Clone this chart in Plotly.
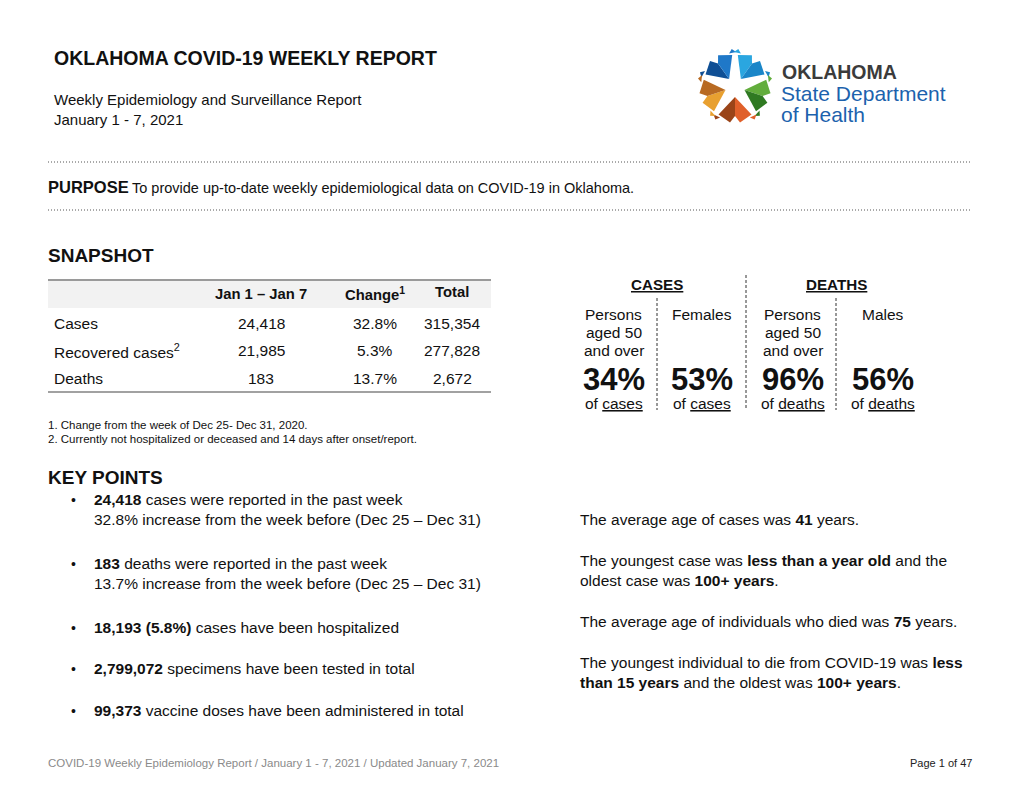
import math
import plotly.graph_objects as go

# ---------------- data ----------------
title = "OKLAHOMA COVID-19 WEEKLY REPORT"
subtitle = "Weekly Epidemiology and Surveillance Report"
date_range = "January 1 - 7, 2021"
purpose_text = "To provide up-to-date weekly epidemiological data on COVID-19 in Oklahoma."

table_headers = ["Jan 1 \u2013 Jan 7", "Change<sup>1</sup>", "Total"]
row_labels = ["Cases", "Recovered cases<sup>2</sup>", "Deaths"]
week_values = ["24,418", "21,985", "183"]
change_values = ["32.8%", "5.3%", "13.7%"]
total_values = ["315,354", "277,828", "2,672"]
footnotes = ["1. Change from the week of Dec 25- Dec 31, 2020.",
             "2. Currently not hospitalized or deceased and 14 days after onset/report."]

snap_groups = ["CASES", "DEATHS"]
snap_labels = [["Persons", "aged 50", "and over"], ["Females"],
               ["Persons", "aged 50", "and over"], ["Males"]]
snap_pcts = ["34%", "53%", "96%", "56%"]
snap_of = ["cases", "cases", "deaths", "deaths"]

key_points = [
    ["<b>24,418</b> cases were reported in the past week",
     "32.8% increase from the week before (Dec 25 \u2013 Dec 31)"],
    ["<b>183</b> deaths were reported in the past week",
     "13.7% increase from the week before (Dec 25 \u2013 Dec 31)"],
    ["<b>18,193 (5.8%)</b> cases have been hospitalized"],
    ["<b>2,799,072</b> specimens have been tested in total"],
    ["<b>99,373</b> vaccine doses have been administered in total"],
]
key_y = [499, 563, 627, 668, 710]

age_facts = [
    ["The average age of cases was <b>41</b> years."],
    ["The youngest case was <b>less than a year old</b> and the",
     "oldest case was <b>100+ years</b>."],
    ["The average age of individuals who died was <b>75</b> years."],
    ["The youngest individual to die from COVID-19 was <b>less</b>",
     "<b>than 15 years</b> and the oldest was <b>100+ years</b>."],
]
age_y = [519, 560, 621, 662]

footer_text = "COVID-19 Weekly Epidemiology Report / January 1 - 7, 2021 / Updated January 7, 2021"
page_text = "Page 1 of 47"

# ---------------- styles ----------------
SANS = "Liberation Sans, Arial, sans-serif"
BLACK = "#111111"
BODY = 15.5

fig = go.Figure()
ann = []
shapes = []


def text(x, y, s, size=BODY, color=BLACK, xanchor="left", yanchor="middle"):
    ann.append(dict(x=x, y=y, xref="x", yref="y", text=s, showarrow=False,
                    xanchor=xanchor, yanchor=yanchor, borderpad=0, borderwidth=0,
                    align="center" if xanchor == "center" else xanchor,
                    font=dict(family=SANS, size=size, color=color)))


def line(x0, y0, x1, y1, color="#777", width=1, dash="solid"):
    shapes.append(dict(type="line", x0=x0, y0=y0, x1=x1, y1=y1, xref="x", yref="y",
                       line=dict(color=color, width=width, dash=dash)))


# Header
text(54, 58, "<b>" + title + "</b>", size=19.5)
text(54, 99, subtitle, size=15)
text(54, 119, date_range, size=15)

# Logo (star of chevrons)
cx, cy = 735, 87
gap_angles = [234, 306, 18, 90, 162]
pair_colors = [("#0f4f95", "#1f78c8"), ("#2aa6e0", "#1a86c8"), ("#62ad3c", "#2f7a22"),
               ("#e0602a", "#9a4418"), ("#e8a030", "#b86a22")]


def pt(r, a):
    return (cx + r * math.cos(math.radians(a)), cy + r * math.sin(math.radians(a)))


def poly(points, color):
    d = "M " + " L ".join(f"{px:.1f},{py:.1f}" for px, py in points) + " Z"
    shapes.append(dict(type="path", path=d, xref="x", yref="y", fillcolor=color,
                       line=dict(width=0)))


for ang, (c1, c2) in zip(gap_angles, pair_colors):
    notch = pt(10, ang)
    tip = pt(29, ang)
    wl = pt(32, ang - 31)
    wr = pt(32, ang + 31)
    poly([notch, wl, pt(36, ang - 8), tip], c1)
    poly([notch, tip, pt(36, ang + 8), wr], c2)
    # small outer shards
    poly([pt(35, ang - 38), pt(38, ang - 31), pt(34, ang - 26)], c1)
    poly([pt(34, ang + 26), pt(38, ang + 31), pt(35, ang + 38)], c2)

text(782, 72, "<b>OKLAHOMA</b>", size=19.5, color="#3b3b3b")
text(781, 93, "State Department", size=21, color="#1c62ad")
text(781, 114, "of Health", size=21, color="#1c62ad")

# Dotted separators + purpose
line(48, 162, 972, 162, color="#555", width=1, dash="1px,2px")
line(48, 210, 972, 210, color="#555", width=1, dash="1px,2px")
text(48, 187, "<b>PURPOSE</b>", size=16.5)
text(132, 188, purpose_text, size=14.5)

# Snapshot table
text(48, 255, "<b>SNAPSHOT</b>", size=19)
tx0, tx1 = 48, 491
shapes.append(dict(type="rect", x0=tx0, x1=tx1, y0=280, y1=308, xref="x", yref="y",
                   fillcolor="#f2f2f2", line=dict(width=0)))
line(tx0, 280, tx1, 280, color="#9a9a9a", width=2)
line(tx0, 392, tx1, 392, color="#444", width=1.2)
col_x = [261, 375, 452]
header_y = [294, 294, 292]
for hx, hy, h in zip(col_x, header_y, table_headers):
    text(hx, hy, "<b>" + h + "</b>", size=14.8, xanchor="center")
row_y0, row_dy = 323, 27.5
for i, lab in enumerate(row_labels):
    ry = row_y0 + i * row_dy
    text(54, ry, lab, size=BODY)
    for cxv, vals in zip(col_x, [week_values, change_values, total_values]):
        text(cxv, ry, vals[i], size=BODY, xanchor="center")

for i, fn in enumerate(footnotes):
    text(48, 425 + i * 13.5, fn, size=11.5)

# Snapshot right panel
group_x = [657, 836]
for gx, g in zip(group_x, snap_groups):
    text(gx, 284, "<b><u>" + g + "</u></b>", size=15.2, xanchor="center")
line(746, 275, 746, 410, color="#333", width=1, dash="3px,2px")
line(657, 298, 657, 410, color="#333", width=1, dash="3px,2px")
line(836, 298, 836, 410, color="#333", width=1, dash="3px,2px")
col_centers = [613.5, 702, 792.5, 883]
for xc, labs, pct, of in zip(col_centers, snap_labels, snap_pcts, snap_of):
    for j, lab in enumerate(labs):
        text(xc, 314 + j * 18, lab, size=BODY, xanchor="center")
    text(xc, 379, "<b>" + pct + "</b>", size=31, xanchor="center")
    text(xc, 403, "of <u>" + of + "</u>", size=BODY, xanchor="center")

# Key points
text(48, 477, "<b>KEY POINTS</b>", size=19)
for ky, lines_ in zip(key_y, key_points):
    text(71, ky + 1, "\u2022", size=14)
    for j, ln in enumerate(lines_):
        text(94, ky + j * 20, ln, size=BODY)

for ay, lines_ in zip(age_y, age_facts):
    for j, ln in enumerate(lines_):
        text(580, ay + j * 20, ln, size=BODY)

# Footer
text(48, 763, footer_text, size=11.5, color="#8a8a8a")
text(972, 763, page_text, size=11, color="#222", xanchor="right")

# page sits 8px inside the browser window (default body margin)
fig.update_layout(
    width=1012, height=780,
    margin=dict(l=0, r=0, t=0, b=0),
    paper_bgcolor="white", plot_bgcolor="white",
    xaxis=dict(range=[8, 1020], visible=False, fixedrange=True),
    yaxis=dict(range=[788, 8], visible=False, fixedrange=True),
    annotations=ann, shapes=shapes, showlegend=False,
)
fig.write_html("out.html")
